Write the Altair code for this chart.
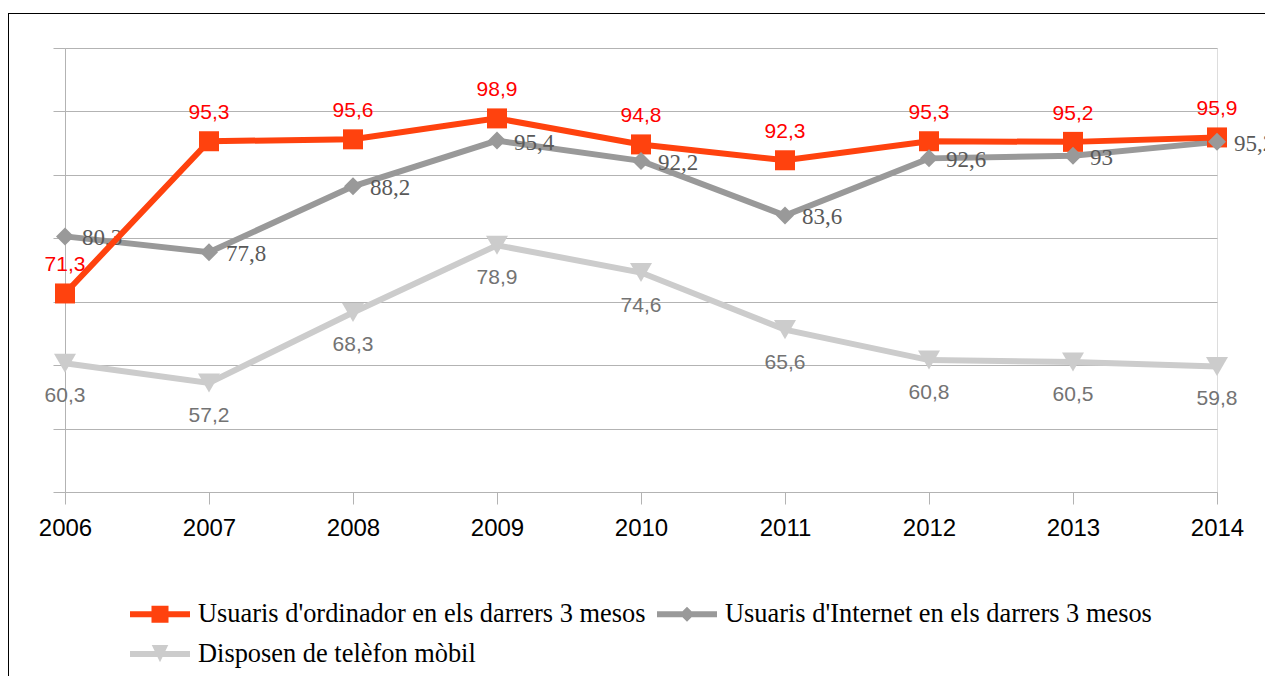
import altair as alt
import pandas as pd

years = [2006, 2007, 2008, 2009, 2010, 2011, 2012, 2013, 2014]
ordinador = [71.3, 95.3, 95.6, 98.9, 94.8, 92.3, 95.3, 95.2, 95.9]
internet = [80.3, 77.8, 88.2, 95.4, 92.2, 83.6, 92.6, 93, 95.2]
mobil = [60.3, 57.2, 68.3, 78.9, 74.6, 65.6, 60.8, 60.5, 59.8]

S1 = "Usuaris d'ordinador en els darrers 3 mesos"
S2 = "Usuaris d'Internet en els darrers 3 mesos"
S3 = "Disposen de telèfon mòbil"
series_names = [S1, S2, S3]
series_colors = ["#FF420E", "#999999", "#CCCCCC"]
y_ticks = [40, 50, 60, 70, 80, 90, 100, 110]

rows = []
for name, vals in zip(series_names, [ordinador, internet, mobil]):
    for yr, v in zip(years, vals):
        rows.append({"series": name, "year": yr, "value": v,
                     "label": f"{v:g}".replace(".", ",")})
df = pd.DataFrame(rows)

GRID = "#b3b3b3"
x = alt.X("year:Q", scale=alt.Scale(domain=[2006, 2014], nice=False, zero=False),
          axis=alt.Axis(values=years, format="d", title=None, grid=False,
                        labelFont="Liberation Sans", labelFontSize=24, labelColor="#000000",
                        tickSize=12, tickColor=GRID, domainColor=GRID, labelPadding=12,
                        labelFlush=False))
y = alt.Y("value:Q", scale=alt.Scale(domain=[40, 110], nice=False, zero=False),
          axis=alt.Axis(values=y_ticks, labels=False, title=None, grid=True, gridColor=GRID,
                        tickSize=12, tickColor=GRID, domainColor=GRID))

base = alt.Chart(df).encode(x=x, y=y)


def sub(name):
    return base.transform_filter(alt.datum.series == name)


line_ord = sub(S1).mark_line(color=series_colors[0], strokeWidth=6)
line_int = sub(S2).mark_line(color=series_colors[1], strokeWidth=6)
line_mob = sub(S3).mark_line(color=series_colors[2], strokeWidth=6)

pt_ord = sub(S1).mark_point(shape="square", filled=True, size=400, opacity=1, color=series_colors[0])
pt_int = sub(S2).mark_point(shape="diamond", filled=True, size=324, opacity=1, color=series_colors[1])
pt_mob = sub(S3).mark_point(shape="triangle-down", filled=True, size=484, opacity=1, color=series_colors[2])

lab_ord = sub(S1).mark_text(font="Liberation Sans", fontSize=21, color="#FF0000",
                            align="center", baseline="alphabetic", dy=-22).encode(text="label:N")
lab_int = sub(S2).mark_text(font="Liberation Serif", fontSize=23, color="#595959",
                            align="left", baseline="middle", dx=17, dy=2).encode(text="label:N")
lab_mob = sub(S3).mark_text(font="Liberation Sans", fontSize=21, color="#737373",
                            align="center", baseline="alphabetic", dy=39).encode(text="label:N")

legend_paths = [
    "M-2,-0.2H2V0.2H-2Z M-0.567,-0.567H0.567V0.567H-0.567Z",
    "M-2,-0.2H2V0.2H-2Z M0,-0.5L0.5,0L0,0.5L-0.5,0Z",
    "M-2,-0.2H2V0.2H-2Z M-0.55,-0.6L0.55,-0.6L0,0.55Z",
]
legend = alt.Legend(title=None, orient="none", legendX=65, legendY=551, columns=2,
                    direction="horizontal",
                    columnPadding=11, rowPadding=11, symbolSize=900, symbolOffset=15,
                    labelOffset=23, labelFont="Liberation Serif", labelFontSize=26.4,
                    labelColor="#000000", labelLimit=1000, padding=0,
                    symbolOpacity=1, symbolStrokeWidth=0)
leg_layer = base.mark_point(filled=True, opacity=0, size=900).encode(
    color=alt.Color("series:N", scale=alt.Scale(domain=series_names, range=series_colors),
                    legend=legend),
    shape=alt.Shape("series:N", scale=alt.Scale(domain=series_names, range=legend_paths),
                    legend=legend),
)

frame_df = pd.DataFrame({"k": [0]})
frame_v = alt.Chart(frame_df).mark_rule(color="#000000", strokeWidth=1).encode(
    x=alt.value(-56.5), y=alt.value(-35), y2=alt.value(700))
frame_h = alt.Chart(frame_df).mark_rule(color="#000000", strokeWidth=1).encode(
    x=alt.value(-57), x2=alt.value(1300), y=alt.value(-34.5))

chart = alt.layer(
    line_mob, line_int, lab_int, line_ord, pt_ord, pt_int, pt_mob, lab_ord, lab_mob,
    leg_layer, frame_v, frame_h
).properties(
    width=1152, height=444,
    autosize=alt.AutoSizeParams(type="none"),
    padding={"left": 57, "top": 40, "right": 48, "bottom": 184},
).configure_view(stroke=GRID, strokeWidth=1).configure(background="#ffffff")

chart.save("out.html", embed_options={"renderer": "svg", "actions": False})
